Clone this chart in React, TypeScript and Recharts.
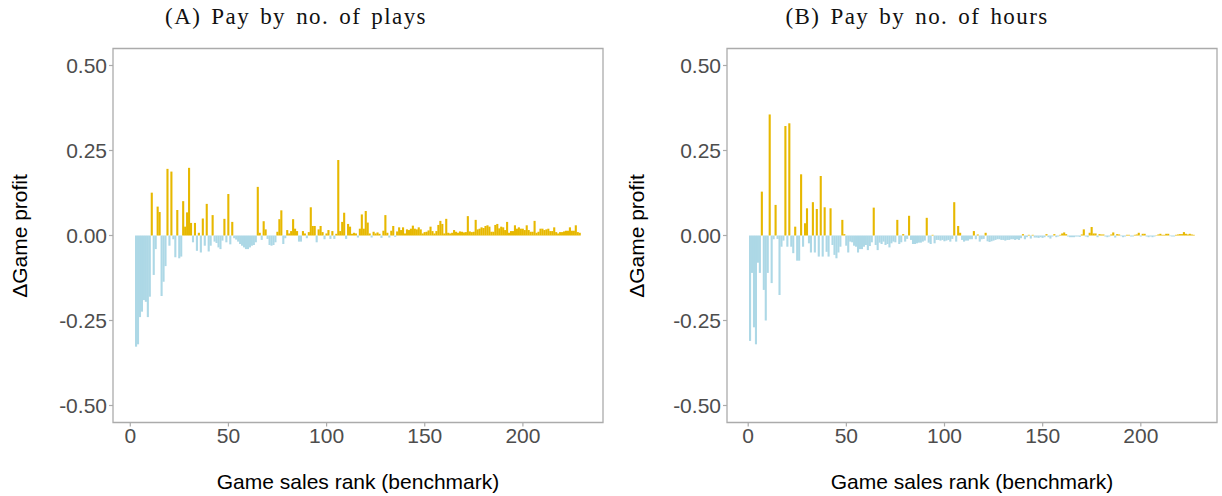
import { BarChart, Bar, XAxis, YAxis, Cell, ReferenceArea } from 'recharts';

// Change in game profit per game, ordered by benchmark sales rank
const firstRankPlays = 3;
const profitPlays = [
  -0.327, -0.32, -0.24, -0.224, -0.19, -0.195, -0.24, -0.18, 0.126, -0.116,
  -0.04, 0.085, 0.069, -0.178, -0.136, -0.09, 0.196, -0.03, 0.188, -0.011,
  -0.064, 0.075, -0.067, -0.062, 0.101, 0.026, 0.068, 0.199, 0.037, -0.02,
  0.037, -0.045, 0.008, -0.05, 0.05, -0.03, 0.093, -0.047, -0.03, 0.06,
  -0.018, -0.022, -0.035, -0.04, -0.015, 0.049, -0.02, 0.122, -0.026, 0.04,
  -0.008, -0.012, -0.018, -0.025, -0.03, -0.035, -0.04, -0.04, -0.035, -0.03,
  -0.028, -0.02, 0.143, 0.008, -0.013, 0.042, 0.018, -0.01, -0.028, -0.03,
  -0.028, -0.02, 0.011, 0.048, 0.074, -0.025, -0.008, 0.016, 0.006, 0.013,
  0.048, 0.02, 0.013, -0.018, -0.018, 0.013, 0.006, -0.008, 0.01, 0.083,
  0.028, 0.028, -0.02, 0.018, 0.028, 0.01, -0.011, 0.006, 0.016, -0.01,
  0.013, -0.01, 0.005, 0.222, 0.013, 0.04, 0.067, -0.01, 0.034, 0.026,
  0.005, 0.008, 0.006, -0.006, 0.02, 0.062, 0.02, 0.072, 0.038, 0.006,
  -0.006, 0.011, 0.006, 0.009, 0.005, -0.007, 0.014, 0.06, 0.008, -0.006,
  0.014, 0.028, -0.004, 0.012, 0.024, 0.016, 0.024, 0.006, 0.018, 0.016,
  0.02, 0.029, 0.02, 0.018, 0.024, 0.018, 0.006, 0.01, 0.011, 0.015,
  0.026, 0.013, 0.006, 0.013, 0.031, 0.043, 0.034, 0.006, 0.049, 0.008,
  0.006, 0.008, 0.016, 0.011, 0.008, 0.012, 0.011, 0.009, 0.01, 0.057,
  0.012, 0.01, 0.011, 0.046, 0.018, 0.02, 0.024, 0.022, 0.028, 0.03,
  0.026, 0.011, 0.011, 0.031, 0.034, 0.021, 0.026, 0.024, 0.016, 0.04,
  0.008, 0.013, 0.013, 0.03, 0.02, 0.024, 0.02, 0.02, 0.016, 0.03,
  0.016, 0.011, 0.011, 0.043, 0.008, 0.011, 0.02, 0.02, 0.016, 0.018,
  0.02, 0.013, 0.013, 0.024, 0.01, 0.006, 0.01, 0.01, 0.012, 0.014,
  0.014, 0.024, 0.014, 0.014, 0.03, 0.01, 0.008,
];

const firstRankHours = 1;
const profitHours = [
  -0.31, -0.11, -0.27, -0.32, -0.08, -0.11, 0.129, -0.16, -0.25, -0.11,
  0.356, -0.14, -0.011, 0.09, -0.01, -0.175, -0.033, -0.015, 0.322, -0.033,
  0.33, -0.033, -0.052, 0.026, -0.074, -0.074, 0.18, -0.033, 0.036, 0.08,
  -0.023, -0.05, 0.098, -0.05, 0.078, -0.062, 0.175, -0.062, 0.083, -0.048,
  -0.062, 0.08, -0.028, -0.057, -0.067, -0.05, -0.033, 0.046, 0.004, -0.03,
  -0.05, -0.018, -0.02, -0.03, -0.033, -0.05, -0.04, -0.04, -0.033, -0.028,
  -0.043, -0.031, -0.02, 0.082, -0.028, -0.043, -0.021, -0.025, -0.018, -0.028,
  -0.025, -0.035, -0.023, -0.018, -0.02, 0.046, -0.025, -0.02, 0.004, -0.018,
  -0.01, 0.058, -0.013, -0.025, -0.025, -0.023, -0.021, -0.021, -0.018, -0.015,
  0.052, -0.021, -0.025, 0.002, -0.023, -0.013, -0.013, -0.015, -0.013, -0.017,
  -0.015, -0.013, -0.018, -0.01, 0.098, -0.018, 0.028, 0.008, -0.013, -0.018,
  -0.015, -0.015, -0.011, -0.011, 0.013, -0.011, 0.003, -0.018, -0.011, -0.01,
  0.008, -0.017, -0.019, -0.017, -0.015, -0.013, -0.011, -0.011, -0.013, -0.013,
  -0.015, -0.013, -0.013, -0.011, -0.011, -0.013, -0.011, -0.013, -0.008, 0.004,
  -0.011, -0.005, 0.002, -0.009, 0.002, -0.006, -0.006, -0.007, -0.005, -0.007,
  -0.005, 0.004, -0.005, -0.009, -0.003, 0.004, -0.005, -0.003, 0.002, 0.006,
  0.009, 0.004, -0.003, -0.005, -0.005, -0.005, -0.003, -0.003, -0.004, 0.003,
  0.018, -0.003, -0.005, 0.008, 0.025, 0.006, 0.006, -0.005, 0.004, 0.003,
  0.003, -0.003, -0.005, -0.003, 0.003, 0.009, -0.006, 0.004, 0.003, -0.002,
  -0.005, -0.003, 0.002, 0.002, -0.003, -0.003, 0.002, 0.003, 0.008, -0.003,
  0.005, 0.005, -0.003, -0.005, -0.003, -0.005, -0.003, 0.001, 0.003, 0.005,
  0.002, 0.002, 0.005, 0.005, -0.002, -0.003, -0.003, 0.002, 0.003, 0.004,
  0.004, 0.01, 0.005, 0.003, 0.005, 0.003, 0.002,
];

const xTicks = [0, 50, 100, 150, 200];
const yTicks = [-0.5, -0.25, 0, 0.25, 0.5];
const yDomain: [number, number] = [-0.55, 0.55];

const GAIN = '#E7B800';
const LOSS = '#ADD8E6';
const FRAME = '#ababab';
const TICK_TEXT = '#4d4d4d';
const SANS = '"Liberation Sans", Arial, sans-serif';

// bars in the original touch each other; widen the default rect a little
const SolidBar = (props: any) => {
  const { x, y, width, height, fill } = props;
  if (x == null || y == null || !height) return null;
  const cx = x + width / 2;
  const top = Math.min(y, y + height);
  const h = Math.abs(height);
  return <rect x={cx - 1.05} y={top} width={2.1} height={h} fill={fill} />;
};

interface PanelProps {
  title: string;
  values: number[];
  firstRank: number;
  left: number;
  margin: { top: number; right: number; bottom: number; left: number };
  xDomain: [number, number];
  titleX: number;
  yTitleX: number;
  xTitleX: number;
}

const Panel = ({ title, values, firstRank, left, margin, xDomain, titleX, yTitleX, xTitleX }: PanelProps) => {
  const data = values.map((v, i) => ({ rank: firstRank + i, profit: v }));

  return (
    <div style={{ position: 'absolute', left, top: 0, width: 611, height: 496 }}>
      <div
        style={{
          position: 'absolute',
          left: titleX,
          top: 4,
          transform: 'translateX(-50%)',
          whiteSpace: 'nowrap',
          fontFamily: '"Liberation Serif", "Times New Roman", serif',
          fontSize: 23,
          letterSpacing: 1.4,
          wordSpacing: 3,
          lineHeight: '26px',
          color: '#111',
        }}
      >
        {title}
      </div>
      <div
        style={{
          position: 'absolute',
          left: yTitleX,
          top: 235.5,
          transform: 'translate(-50%, -50%) rotate(-90deg)',
          whiteSpace: 'nowrap',
          fontFamily: SANS,
          fontSize: 21,
          color: '#000',
        }}
      >
        ΔGame profit
      </div>
      <div
        style={{
          position: 'absolute',
          left: xTitleX,
          top: 482,
          transform: 'translate(-50%, -50%)',
          whiteSpace: 'nowrap',
          fontFamily: SANS,
          fontSize: 21,
          color: '#000',
        }}
      >
        Game sales rank (benchmark)
      </div>
      <BarChart width={611} height={496} data={data} margin={margin}>
        <XAxis
          dataKey="rank"
          type="number"
          domain={xDomain}
          ticks={xTicks}
          allowDataOverflow
          axisLine={false}
          tickLine={{ stroke: FRAME, strokeWidth: 1.2 }}
          tickSize={4}
          tickMargin={2}
          height={30}
          tick={{ fill: TICK_TEXT, fontSize: 21, fontFamily: SANS }}
        />
        <YAxis
          type="number"
          domain={yDomain}
          ticks={yTicks}
          allowDataOverflow
          axisLine={false}
          tickLine={{ stroke: FRAME, strokeWidth: 1.2 }}
          tickSize={4}
          tickMargin={2}
          width={60}
          tickFormatter={(v: number) => v.toFixed(2)}
          tick={{ fill: TICK_TEXT, fontSize: 21, fontFamily: SANS }}
        />
        <Bar dataKey="profit" barSize={2} shape={SolidBar} isAnimationActive={false}>
          {data.map((d, i) => (
            <Cell key={i} fill={d.profit >= 0 ? GAIN : LOSS} />
          ))}
        </Bar>
        <ReferenceArea
          x1={xDomain[0]}
          x2={xDomain[1]}
          y1={yDomain[0]}
          y2={yDomain[1]}
          fill="none"
          stroke={FRAME}
          strokeWidth={1.3}
          ifOverflow="visible"
        />
      </BarChart>
    </div>
  );
};

export default function App() {
  return (
    <div style={{ position: 'absolute', left: 0, top: 0, width: 1222, height: 496, background: '#fff' }}>
      <Panel
        title="(A) Pay by no. of plays"
        values={profitPlays}
        firstRank={firstRankPlays}
        left={0}
        margin={{ top: 48.5, right: 8, bottom: 43.5, left: 53 }}
        xDomain={[-8.8, 240.8]}
        titleX={296}
        yTitleX={20}
        xTitleX={358}
      />
      <Panel
        title="(B) Pay by no. of hours"
        values={profitHours}
        firstRank={firstRankHours}
        left={611}
        margin={{ top: 48.5, right: 5, bottom: 43.5, left: 56 }}
        xDomain={[-10.8, 238.8]}
        titleX={306}
        yTitleX={26}
        xTitleX={361}
      />
    </div>
  );
}
